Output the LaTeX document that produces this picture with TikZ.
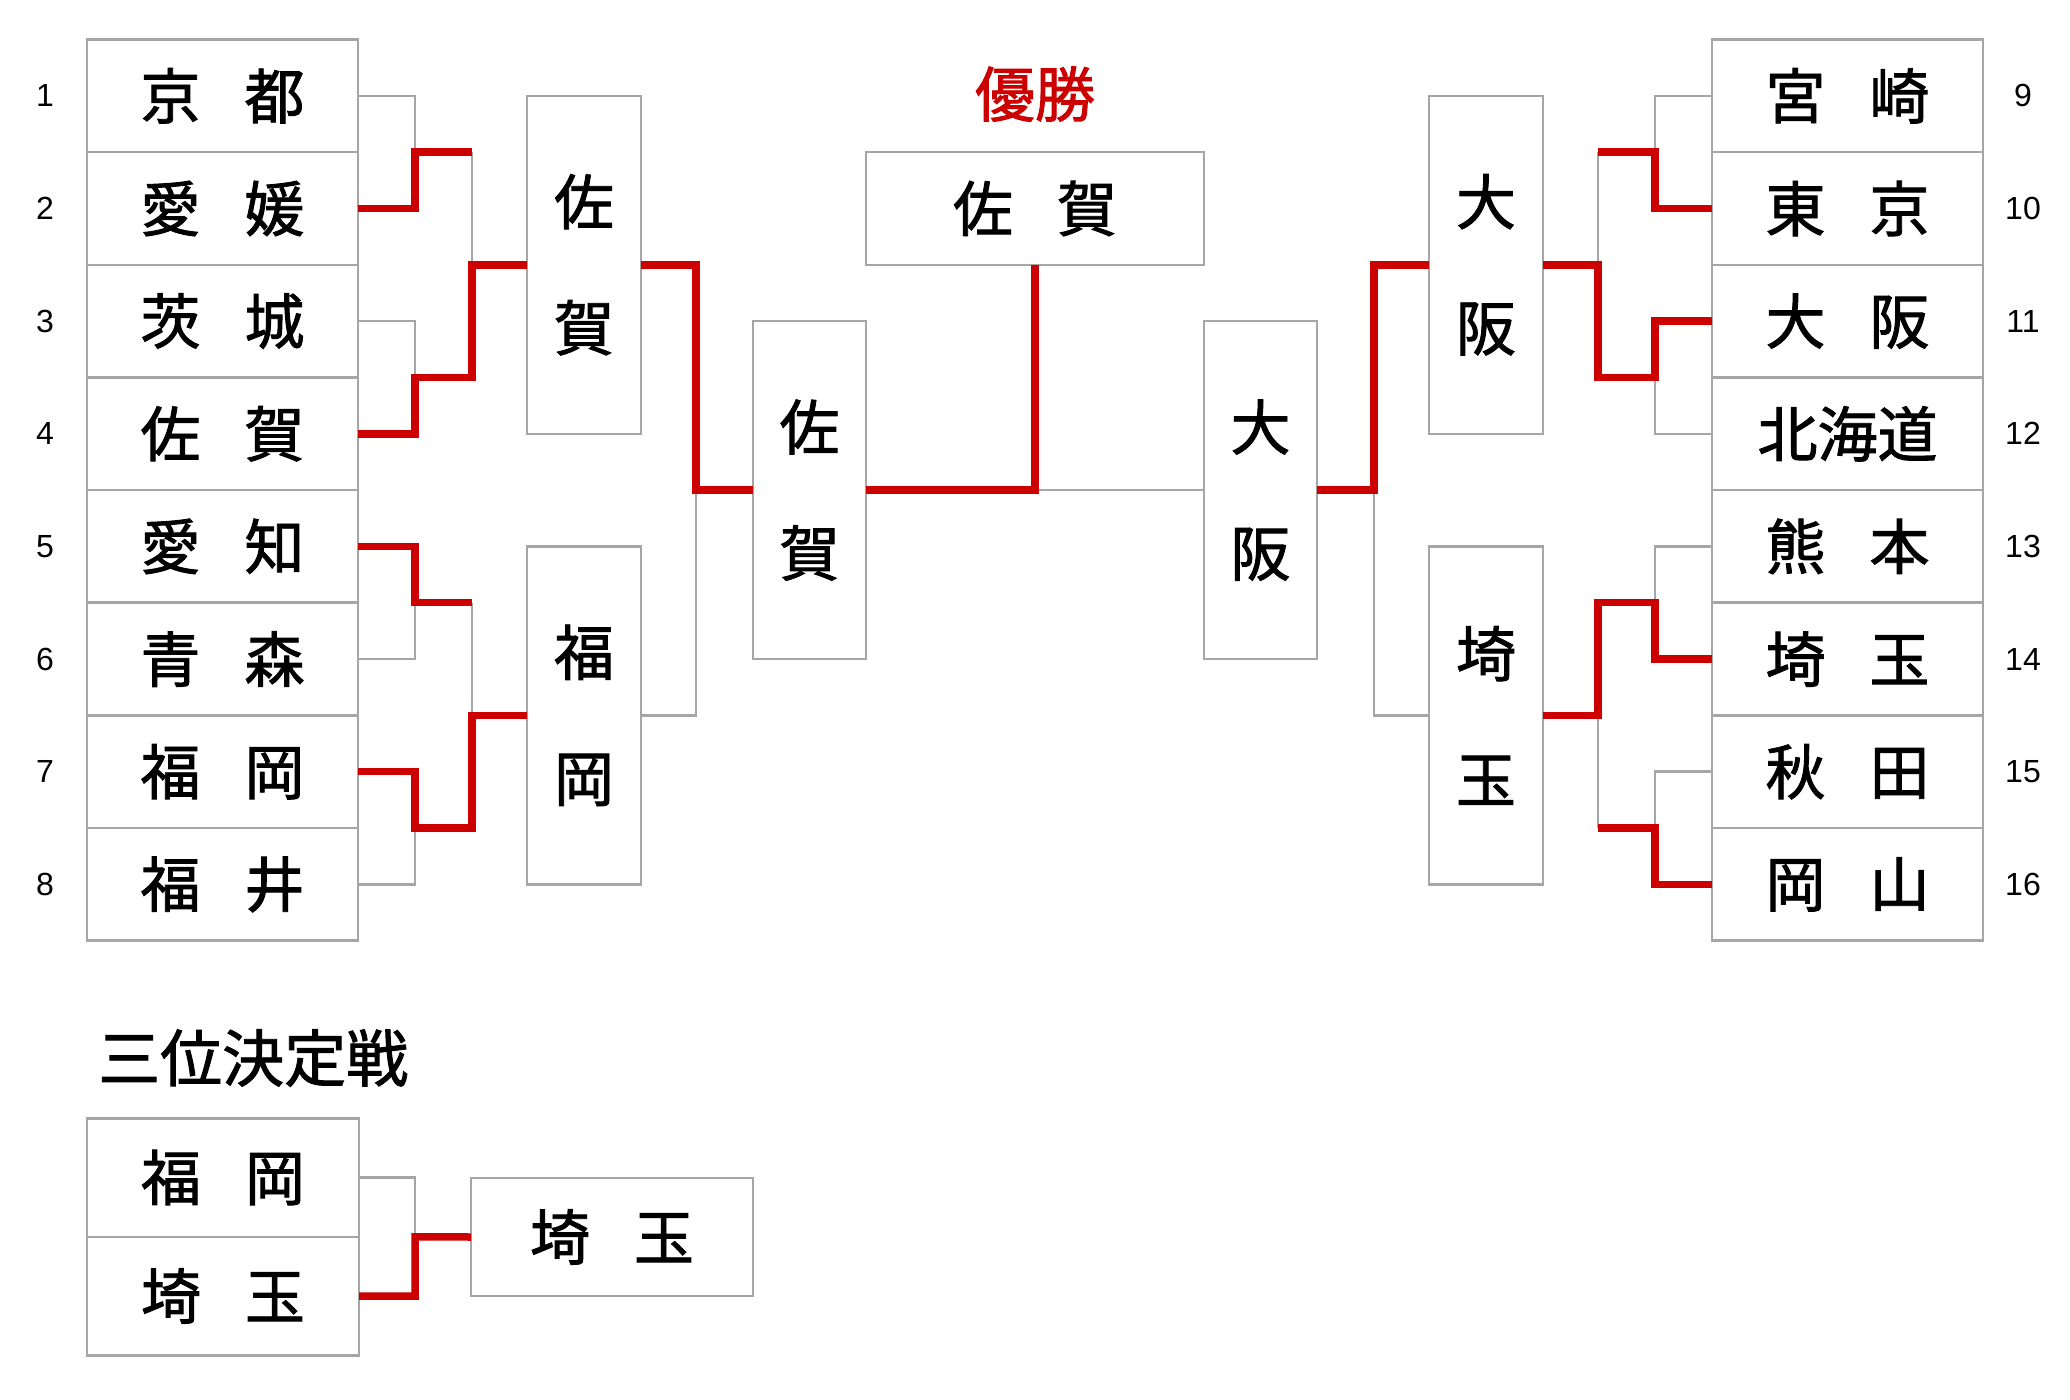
\documentclass[tikz,border=0pt]{standalone}
\usepackage{fontspec}
\setmainfont{Liberation Sans}
\newfontfamily\jp{Noto Sans CJK JP}[FakeBold=1.5]
\usetikzlibrary{calc}
\definecolor{bgray}{HTML}{A6A6A6}
\definecolor{wred}{HTML}{CC0000}
\begin{document}
\begin{tikzpicture}[x=1pt,y=-1pt,
  box/.style={draw=bgray, line width=2.5pt, inner sep=0pt, outer sep=0pt, font=\jp\fontsize{60}{60}\selectfont},
  rowbox/.style={box, minimum width=271pt, minimum height=112.65pt},
  vbox/.style={box, minimum width=114pt, minimum height=338pt, align=center, font=\jp\fontsize{60}{126}\selectfont},
  num/.style={font=\fontsize{32}{32}\selectfont, inner sep=0pt},
  gl/.style={draw=bgray, line width=2.5pt},
  rl/.style={draw=wred, line width=7.5pt},
  ttl/.style={inner sep=0pt, font=\jp\fontsize{60}{60}\selectfont},
]
\fill[white] (0,0) rectangle (2070,1400);
\useasboundingbox (0,0) rectangle (2070,1400);

% left first-round boxes
\node[rowbox] (L1) at (222.5,95.8)  {京\hspace{44pt}都};
\node[rowbox] (L2) at (222.5,208.5) {愛\hspace{44pt}媛};
\node[rowbox] (L3) at (222.5,321.1) {茨\hspace{44pt}城};
\node[rowbox] (L4) at (222.5,433.8) {佐\hspace{44pt}賀};
\node[rowbox] (L5) at (222.5,546.4) {愛\hspace{44pt}知};
\node[rowbox] (L6) at (222.5,659.1) {青\hspace{44pt}森};
\node[rowbox] (L7) at (222.5,771.7) {福\hspace{44pt}岡};
\node[rowbox] (L8) at (222.5,884.4) {福\hspace{44pt}井};
% right first-round boxes
\node[rowbox] (R9)  at (1847.5,95.8)  {宮\hspace{44pt}崎};
\node[rowbox] (R10) at (1847.5,208.5) {東\hspace{44pt}京};
\node[rowbox] (R11) at (1847.5,321.1) {大\hspace{44pt}阪};
\node[rowbox] (R12) at (1847.5,433.8) {北海道};
\node[rowbox] (R13) at (1847.5,546.4) {熊\hspace{44pt}本};
\node[rowbox] (R14) at (1847.5,659.1) {埼\hspace{44pt}玉};
\node[rowbox] (R15) at (1847.5,771.7) {秋\hspace{44pt}田};
\node[rowbox] (R16) at (1847.5,884.4) {岡\hspace{44pt}山};

% seed numbers
\node[num] (n1) at (45,95.8) {1};
\node[num] (n2) at (45,208.5) {2};
\node[num] (n3) at (45,321.1) {3};
\node[num] (n4) at (45,433.8) {4};
\node[num] (n5) at (45,546.4) {5};
\node[num] (n6) at (45,659.1) {6};
\node[num] (n7) at (45,771.7) {7};
\node[num] (n8) at (45,884.4) {8};
\node[num] (n9) at (2023,95.8) {9};
\node[num] (n10) at (2023,208.5) {10};
\node[num] (n11) at (2023,321.1) {11};
\node[num] (n12) at (2023,433.8) {12};
\node[num] (n13) at (2023,546.4) {13};
\node[num] (n14) at (2023,659.1) {14};
\node[num] (n15) at (2023,771.7) {15};
\node[num] (n16) at (2023,884.4) {16};

% second round
\node[vbox] (S1) at (584,264.8) {佐\\賀};
\node[vbox] (S2) at (584,715.4) {福\\岡};
\node[vbox] (RS1) at (1486,264.8) {大\\阪};
\node[vbox] (RS2) at (1486,715.4) {埼\\玉};
% semi final
\node[vbox, minimum width=113pt] (T1) at (809.5,490.1) {佐\\賀};
\node[vbox, minimum width=113pt] (T2) at (1260.5,490.1) {大\\阪};
% final
\node[box, minimum width=338pt, minimum height=112.65pt] (F) at (1035,208.5) {佐\hspace{44pt}賀};
\node[ttl, text=wred] (win) at (1035,94) {優勝};

% third place
\node[ttl, anchor=west, font=\jp\fontsize{62}{62}\selectfont] (third) at (98,1058) {三位決定戦};
\node[box, minimum width=272pt, minimum height=118.5pt] (Q1) at (223,1177.5) {福\hspace{44pt}岡};
\node[box, minimum width=272pt, minimum height=118.5pt] (Q2) at (223,1296) {埼\hspace{44pt}玉};
\node[box, minimum width=282pt, minimum height=118pt] (QW) at (612,1237) {埼\hspace{44pt}玉};

% ---- gray (losing) connectors
\draw[gl] (L1.east) -| ([xshift=57pt]L1.south east);
\draw[gl] ([xshift=114pt]L1.south east) |- (S1.west);
\draw[gl] (L3.east) -| ([xshift=57pt]L3.south east);
\draw[gl] (L6.east) -| ([xshift=57pt]L5.south east);
\draw[gl] (L8.east) -| ([xshift=57pt]L7.south east);
\draw[gl] ([xshift=114pt]L5.south east) |- (S2.west);
\draw[gl] (S2.east) -- ++(55,0) |- (T1.west);
\draw[gl] (T2.west) -| (F.south);
\draw[gl] (R9.west) -| ([xshift=-57pt]R9.south west);
\draw[gl] (R12.west) -| ([xshift=-57pt]R11.south west);
\draw[gl] ([xshift=-114pt]R9.south west) |- (RS1.east);
\draw[gl] (R13.west) -| ([xshift=-57pt]R13.south west);
\draw[gl] (R15.west) -| ([xshift=-57pt]R15.south west);
\draw[gl] ([xshift=-114pt]R15.south west) |- (RS2.east);
\draw[gl] (RS2.west) -- ++(-55,0) |- (T2.east);
\draw[gl] (Q1.east) -| ([xshift=56pt]Q1.south east);

% ---- red (winning) connectors
\draw[rl] (L2.east) -| ([xshift=57pt]L1.south east) -- ++(57,0);
\draw[rl] (L4.east) -| ([xshift=57pt]L3.south east) -- ++(57,0) |- (S1.west);
\draw[rl] (L5.east) -| ([xshift=57pt]L5.south east) -- ++(57,0);
\draw[rl] (L7.east) -| ([xshift=57pt]L7.south east) -- ++(57,0) |- (S2.west);
\draw[rl] (S1.east) -- ++(55,0) |- (T1.west);
\draw[rl] (T1.east) -| (F.south);
\draw[rl] (R10.west) -| ([xshift=-57pt]R9.south west) -- ++(-57,0);
\draw[rl] (R11.west) -| ([xshift=-57pt]R11.south west) -- ++(-57,0) |- (RS1.east);
\draw[rl] (R14.west) -| ([xshift=-57pt]R13.south west) -- ++(-57,0) |- (RS2.east);
\draw[rl] (R16.west) -| ([xshift=-57pt]R15.south west) -- ++(-57,0);
\draw[rl] (RS1.west) -- ++(-55,0) |- (T2.east);
\draw[rl] (Q2.east) -| ([xshift=56pt]Q1.south east) -- (QW.west);
\end{tikzpicture}
\end{document}
